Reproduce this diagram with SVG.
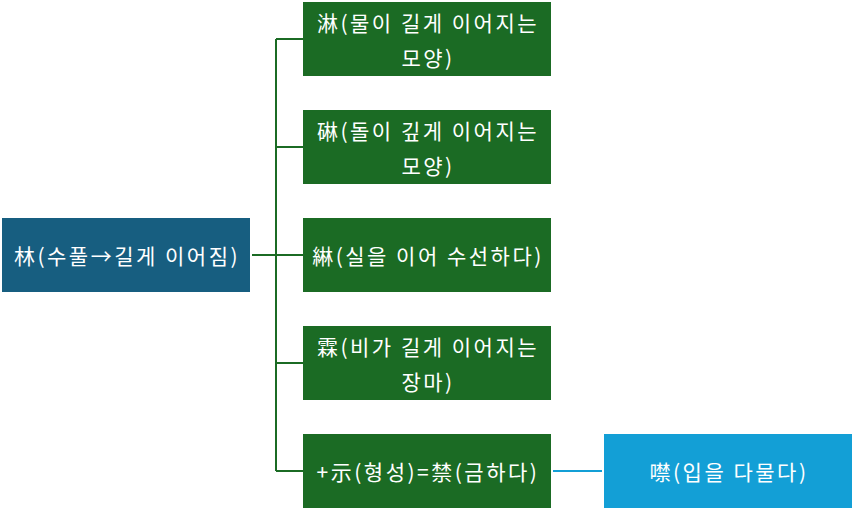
<svg xmlns="http://www.w3.org/2000/svg" width="854" height="510" viewBox="0 0 854 510">
<style>
.t{font-family:"Noto Sans CJK KR","Noto Sans",sans-serif;font-size:21px;letter-spacing:2.5px;fill:#ffffff;text-anchor:middle;dominant-baseline:central}
.g{fill:#1b6b24}
.c{fill:none;stroke:#1b6b24;stroke-width:2}
</style>
<rect width="854" height="510" fill="#ffffff"/>
<g id="connectors">
<path class="c" d="M252 255H303M276 39V471M276 39H303M276 147H303M276 363H303M276 471H303"/>
<path d="M553 471H602" fill="none" stroke="#139fd6" stroke-width="2"/>
</g>
<g id="root"><rect x="2" y="218" width="248" height="74" fill="#175e80"/><text class="t" x="127" y="255">林(수풀→길게 이어짐)</text></g>
<g id="n1"><rect class="g" x="303" y="2" width="248" height="74"/><text class="t" x="428" y="22">淋(물이 길게 이어지는</text><text class="t" x="428" y="57">모양)</text></g>
<g id="n2"><rect class="g" x="303" y="110" width="248" height="74"/><text class="t" x="428" y="130">碄(돌이 깊게 이어지는</text><text class="t" x="428" y="165">모양)</text></g>
<g id="n3"><rect class="g" x="303" y="218" width="248" height="74"/><text class="t" x="428" y="255">綝(실을 이어 수선하다)</text></g>
<g id="n4"><rect class="g" x="303" y="326" width="248" height="74"/><text class="t" x="428" y="346">霖(비가 길게 이어지는</text><text class="t" x="428" y="381">장마)</text></g>
<g id="n5"><rect class="g" x="303" y="434" width="248" height="74"/><text class="t" x="428" y="471">+示(형성)=禁(금하다)</text></g>
<g id="n6"><rect x="604" y="434" width="248" height="74" fill="#139fd6"/><text class="t" x="729" y="471">噤(입을 다물다)</text></g>
</svg>
